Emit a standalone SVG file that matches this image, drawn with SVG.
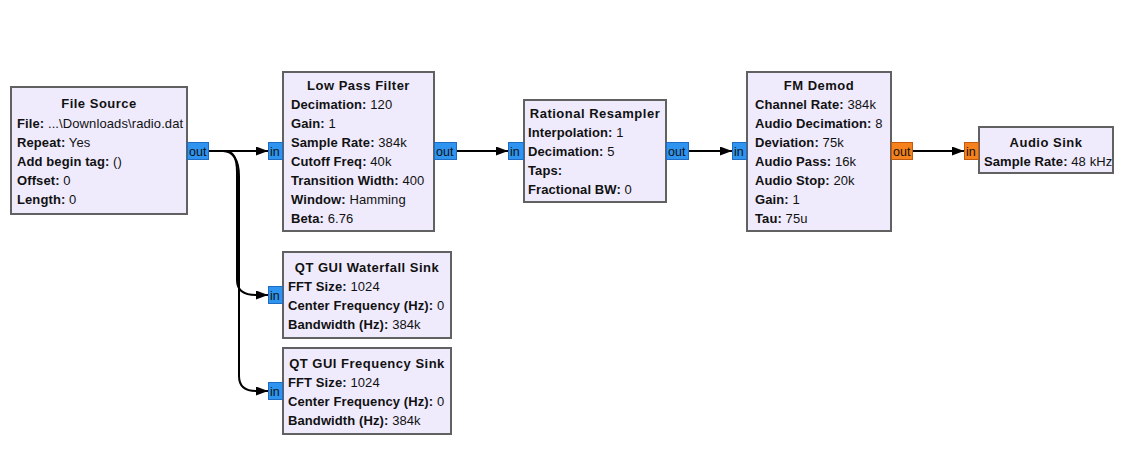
<svg xmlns="http://www.w3.org/2000/svg" width="1143" height="453" viewBox="0 0 1143 453">
<defs>
<style>
.blk{fill:#EFEBFD;stroke:#616161;stroke-width:2}
.t{font-family:"Liberation Sans",Arial,sans-serif;font-size:13px;fill:#111;letter-spacing:0.1px}
.ti{font-family:"Liberation Sans",Arial,sans-serif;font-size:13px;font-weight:bold;fill:#111;text-anchor:middle;letter-spacing:0.5px}
.b{font-weight:bold}
.pb{fill:#2E94F0;stroke:#1F6DC2;stroke-width:1}
.po{fill:#F5821C;stroke:#C25A0E;stroke-width:1}
.pt{font-family:"Liberation Sans",Arial,sans-serif;font-size:12.5px;fill:#111}
.c{fill:none;stroke:#000;stroke-width:2;marker-end:url(#arr)}
</style>
<marker id="arr" markerUnits="userSpaceOnUse" markerWidth="12" markerHeight="9" refX="12" refY="4.5" orient="auto">
<path d="M0,0 L12,4.5 L0,9 z" fill="#000"/>
</marker>
</defs>
<rect width="1143" height="453" fill="#fff"/>

<g id="connectors">
<path class="c" d="M209,151 L268,151"/>
<path class="c" d="M209,151 L225,151 C233,151 237,158 237,172 L237,280 C237,290 243,295 256,295 L268,295"/>
<path class="c" d="M209,151 L223,151 C233,151 239,160 239,176 L239,376 C239,386 245,391 256,391 L268,391"/>
<path class="c" d="M457,151 L508,151"/>
<path class="c" d="M689,151 L732,151"/>
<path class="c" d="M913,151 L964,151"/>
</g>

<g id="file_source">
<rect class="blk" x="11" y="87" width="176" height="127"/>
<text class="ti" x="99" y="108">File Source</text>
<text class="t" x="17" y="128"><tspan class="b">File:</tspan> ...\Downloads\radio.dat</text>
<text class="t" x="17" y="147"><tspan class="b">Repeat:</tspan> Yes</text>
<text class="t" x="17" y="166"><tspan class="b">Add begin tag:</tspan> ()</text>
<text class="t" x="17" y="185"><tspan class="b">Offset:</tspan> 0</text>
<text class="t" x="17" y="204"><tspan class="b">Length:</tspan> 0</text>
<rect class="pb" x="187.5" y="142.5" width="21" height="17"/>
<text class="pt" x="189" y="155.5">out</text>
</g>

<g id="low_pass_filter">
<rect class="blk" x="283" y="72" width="151" height="159"/>
<text class="ti" x="358.5" y="90">Low Pass Filter</text>
<text class="t" x="291" y="109"><tspan class="b">Decimation:</tspan> 120</text>
<text class="t" x="291" y="128"><tspan class="b">Gain:</tspan> 1</text>
<text class="t" x="291" y="147"><tspan class="b">Sample Rate:</tspan> 384k</text>
<text class="t" x="291" y="166"><tspan class="b">Cutoff Freq:</tspan> 40k</text>
<text class="t" x="291" y="185"><tspan class="b">Transition Width:</tspan> 400</text>
<text class="t" x="291" y="204"><tspan class="b">Window:</tspan> Hamming</text>
<text class="t" x="291" y="223"><tspan class="b">Beta:</tspan> 6.76</text>
<rect class="pb" x="268.5" y="142.5" width="14" height="17"/>
<text class="pt" x="270" y="155.5">in</text>
<rect class="pb" x="434.5" y="142.5" width="22" height="17"/>
<text class="pt" x="436" y="155.5">out</text>
</g>

<g id="rational_resampler">
<rect class="blk" x="524" y="100" width="142" height="102"/>
<text class="ti" x="595" y="118">Rational Resampler</text>
<text class="t" x="528" y="137"><tspan class="b">Interpolation:</tspan> 1</text>
<text class="t" x="528" y="156"><tspan class="b">Decimation:</tspan> 5</text>
<text class="t" x="528" y="175"><tspan class="b">Taps:</tspan></text>
<text class="t" x="528" y="194"><tspan class="b">Fractional BW:</tspan> 0</text>
<rect class="pb" x="508.5" y="142.5" width="15" height="17"/>
<text class="pt" x="510" y="155.5">in</text>
<rect class="pb" x="666.5" y="142.5" width="22" height="17"/>
<text class="pt" x="668" y="155.5">out</text>
</g>

<g id="fm_demod">
<rect class="blk" x="747" y="72" width="144" height="159"/>
<text class="ti" x="819" y="90">FM Demod</text>
<text class="t" x="755" y="109"><tspan class="b">Channel Rate:</tspan> 384k</text>
<text class="t" x="755" y="128"><tspan class="b">Audio Decimation:</tspan> 8</text>
<text class="t" x="755" y="147"><tspan class="b">Deviation:</tspan> 75k</text>
<text class="t" x="755" y="166"><tspan class="b">Audio Pass:</tspan> 16k</text>
<text class="t" x="755" y="185"><tspan class="b">Audio Stop:</tspan> 20k</text>
<text class="t" x="755" y="204"><tspan class="b">Gain:</tspan> 1</text>
<text class="t" x="755" y="223"><tspan class="b">Tau:</tspan> 75u</text>
<rect class="pb" x="732.5" y="142.5" width="14" height="17"/>
<text class="pt" x="734" y="155.5">in</text>
<rect class="po" x="891.5" y="142.5" width="21" height="17"/>
<text class="pt" x="893" y="155.5">out</text>
</g>

<g id="audio_sink">
<rect class="blk" x="979" y="127" width="134" height="46"/>
<text class="ti" x="1046" y="147">Audio Sink</text>
<text class="t" x="984" y="166"><tspan class="b">Sample Rate:</tspan> 48 kHz</text>
<rect class="po" x="964.5" y="142.5" width="14" height="17"/>
<text class="pt" x="966" y="155.5">in</text>
</g>

<g id="qt_gui_waterfall_sink">
<rect class="blk" x="283" y="252" width="168" height="86"/>
<text class="ti" x="367" y="272">QT GUI Waterfall Sink</text>
<text class="t" x="288" y="291"><tspan class="b">FFT Size:</tspan> 1024</text>
<text class="t" x="288" y="310"><tspan class="b">Center Frequency (Hz):</tspan> 0</text>
<text class="t" x="288" y="329"><tspan class="b">Bandwidth (Hz):</tspan> 384k</text>
<rect class="pb" x="268.5" y="286.5" width="14" height="17"/>
<text class="pt" x="270" y="299.5">in</text>
</g>

<g id="qt_gui_frequency_sink">
<rect class="blk" x="283" y="348" width="168" height="86"/>
<text class="ti" x="367" y="368">QT GUI Frequency Sink</text>
<text class="t" x="288" y="387"><tspan class="b">FFT Size:</tspan> 1024</text>
<text class="t" x="288" y="406"><tspan class="b">Center Frequency (Hz):</tspan> 0</text>
<text class="t" x="288" y="425"><tspan class="b">Bandwidth (Hz):</tspan> 384k</text>
<rect class="pb" x="268.5" y="382.5" width="14" height="17"/>
<text class="pt" x="270" y="395.5">in</text>
</g>
</svg>
